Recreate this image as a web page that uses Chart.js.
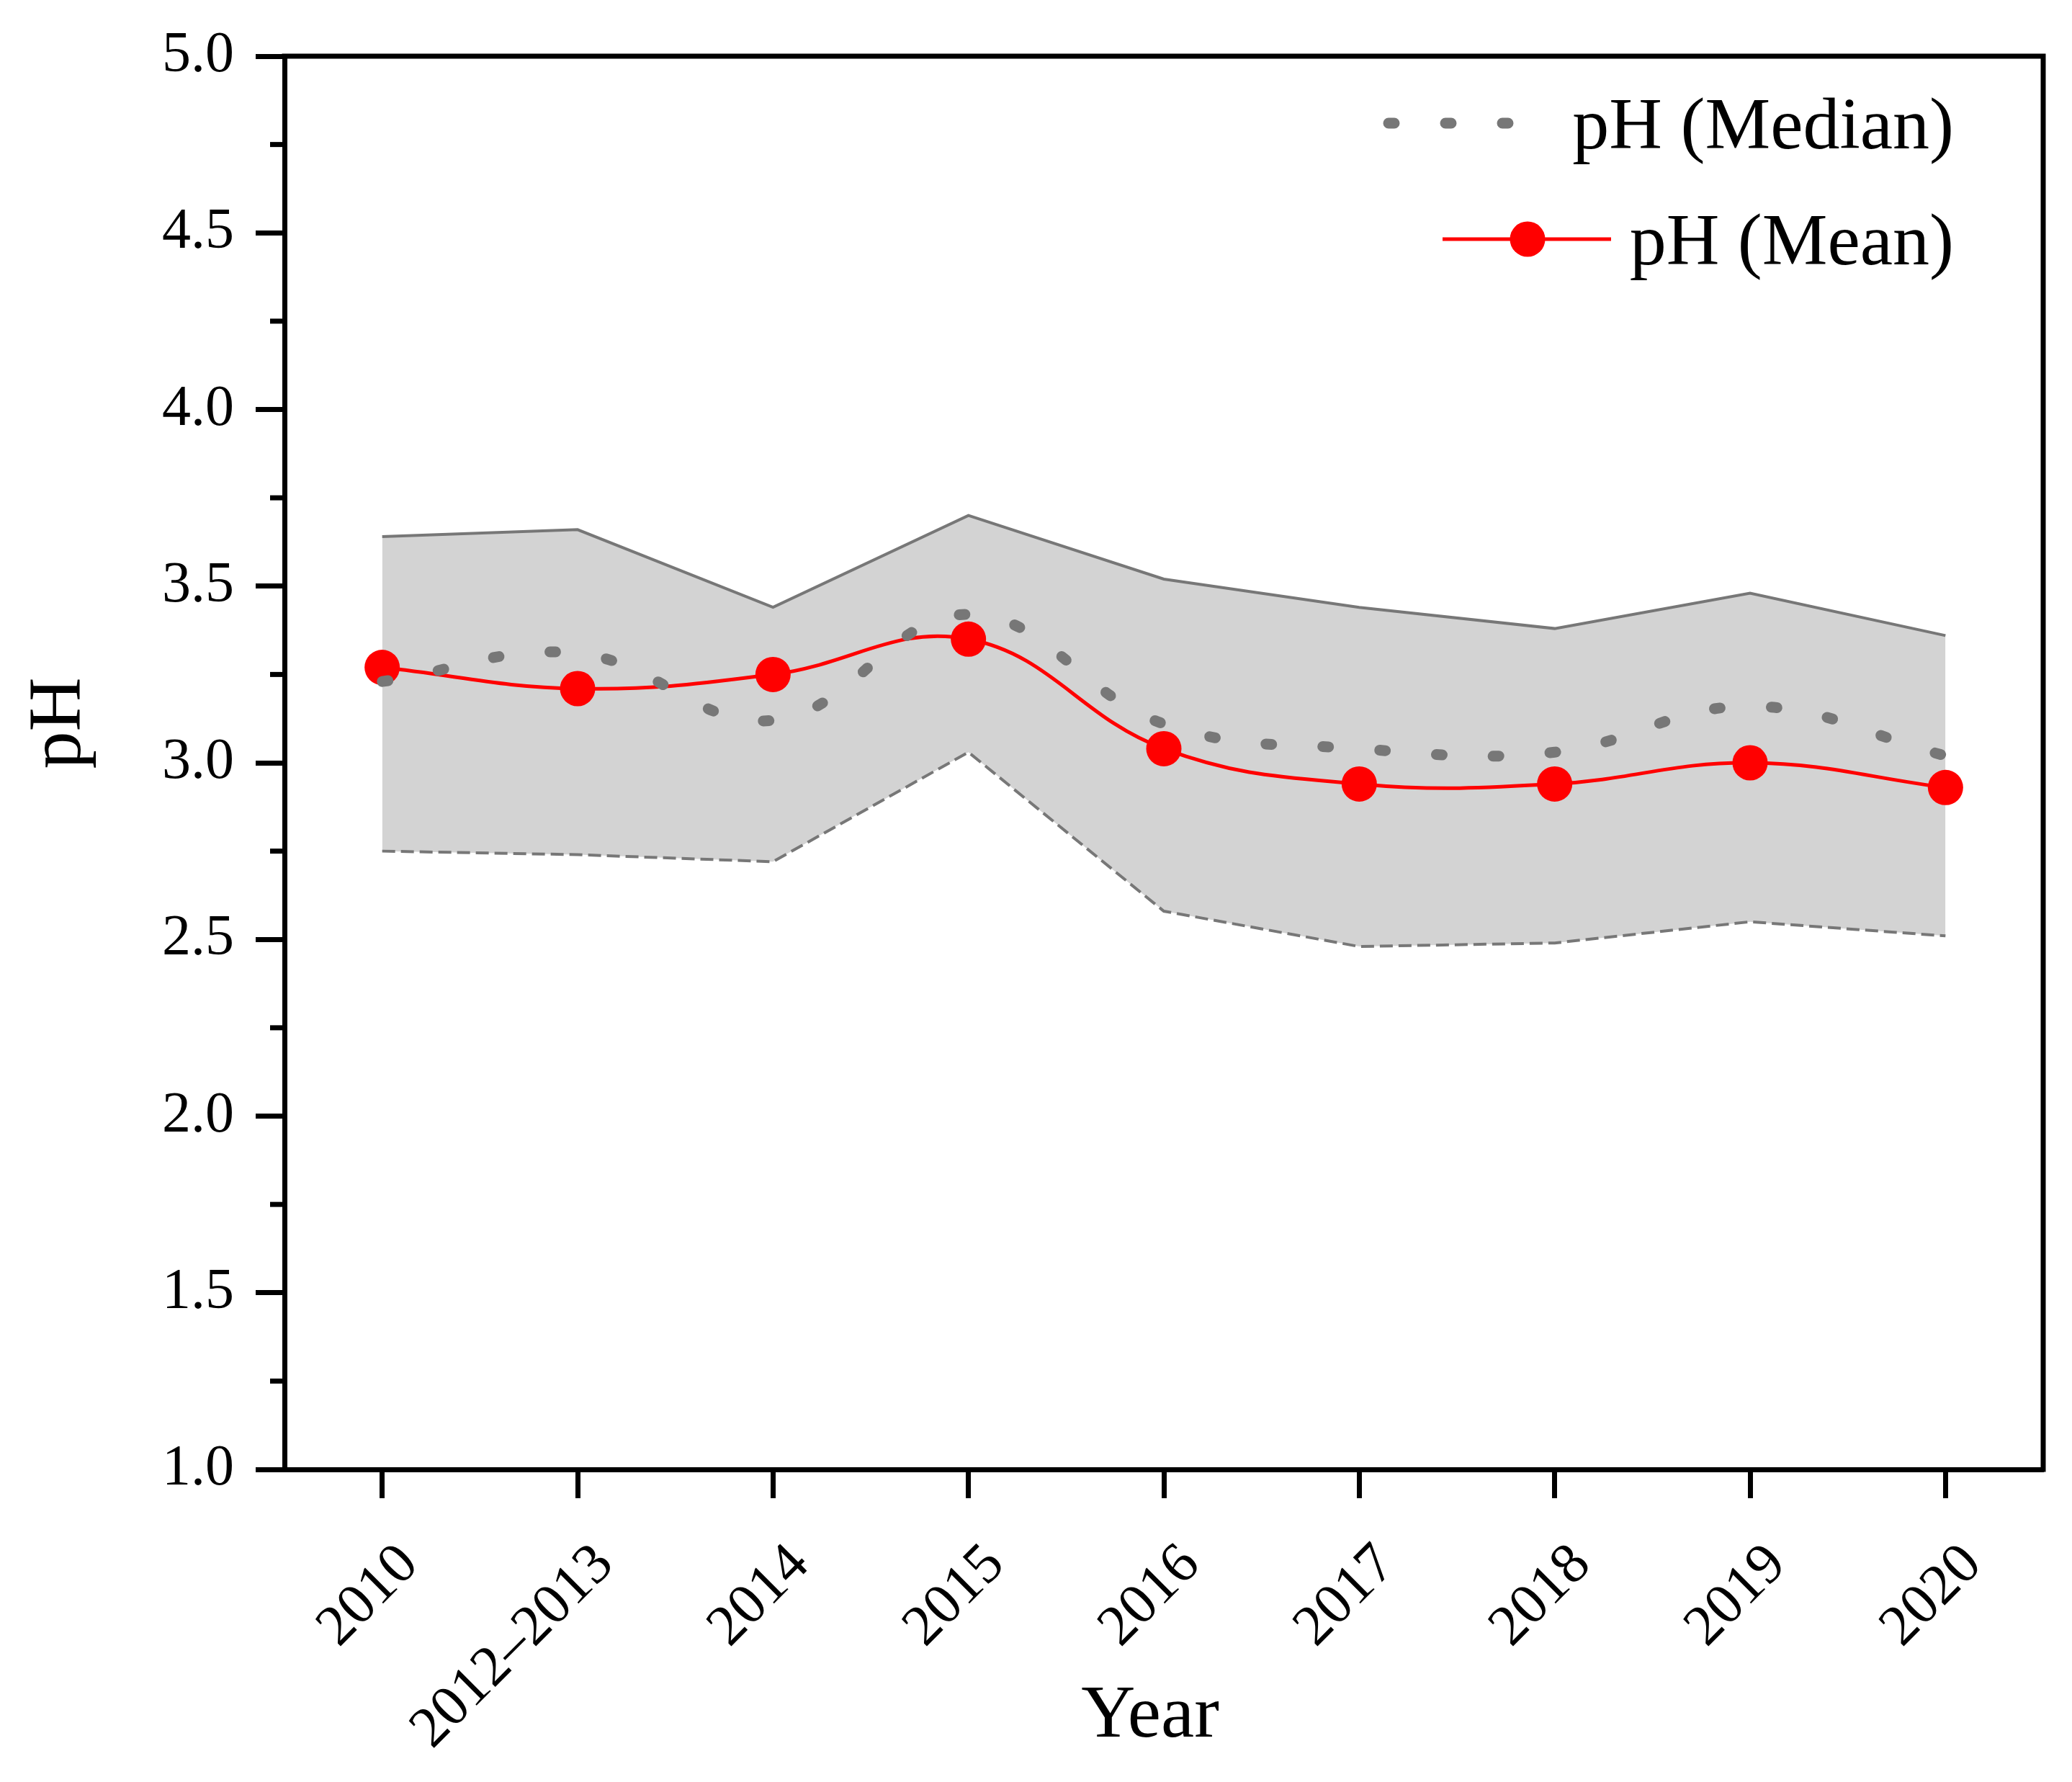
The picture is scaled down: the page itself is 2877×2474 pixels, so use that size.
<!DOCTYPE html>
<html>
<head>
<meta charset="utf-8">
<script src="https://cdn.jsdelivr.net/npm/chart.js@4.4.0/dist/chart.umd.min.js"></script>
<style>
  html, body { margin: 0; padding: 0; background: #fff; }
  #wrap { width: 2877px; height: 2474px; }
</style>
</head>
<body>
<div id="wrap"><canvas id="phChart" width="2877" height="2474"></canvas></div>
<script>
// Data
const years = ["2010", "2012\u20132013", "2014", "2015", "2016", "2017", "2018", "2019", "2020"];
const phMean = [3.27, 3.21, 3.25, 3.35, 3.04, 2.94, 2.94, 3.00, 2.93];
const phMedian = [3.23, 3.31, 3.12, 3.42, 3.11, 3.04, 3.03, 3.16, 3.02];
const phUpper = [3.64, 3.66, 3.44, 3.70, 3.52, 3.44, 3.38, 3.48, 3.36];
const phLower = [2.75, 2.74, 2.72, 3.03, 2.58, 2.48, 2.49, 2.55, 2.51];

const serif = "'Liberation Serif', 'Times New Roman', serif";

// Top/right frame, minor y ticks, axis titles and legend
const extrasPlugin = {
  id: "extras",
  afterDraw(chart) {
    const ctx = chart.ctx;
    const a = chart.chartArea;
    const y = chart.scales.y;
    ctx.save();

    ctx.strokeStyle = "#000";
    ctx.lineWidth = 7;
    ctx.lineCap = "butt";
    ctx.beginPath();
    ctx.moveTo(a.left - 3.5, a.top);
    ctx.lineTo(a.right, a.top);
    ctx.lineTo(a.right, a.bottom + 3.5);
    ctx.stroke();

    // minor ticks between labelled ones
    for (let v = y.min + 0.25; v < y.max; v += 0.5) {
      const py = y.getPixelForValue(v);
      ctx.beginPath();
      ctx.moveTo(a.left - 20, py);
      ctx.lineTo(a.left, py);
      ctx.stroke();
    }

    // axis titles
    ctx.fillStyle = "#000";
    ctx.font = "104px " + serif;
    ctx.textAlign = "center";
    ctx.textBaseline = "alphabetic";
    ctx.fillText("Year", 1597, 2411);
    ctx.translate(111, 1004);
    ctx.rotate(-Math.PI / 2);
    ctx.fillText("pH", 0, 0);
    ctx.setTransform(1, 0, 0, 1, 0, 0);

    // legend
    ctx.strokeStyle = "#777777";
    ctx.lineWidth = 15;
    ctx.lineCap = "round";
    ctx.setLineDash([8, 71]);
    ctx.beginPath();
    ctx.moveTo(a.right - 909, a.top + 93);
    ctx.lineTo(a.right - 739, a.top + 93);
    ctx.stroke();
    ctx.setLineDash([]);

    ctx.strokeStyle = "#ff0000";
    ctx.lineWidth = 5;
    ctx.lineCap = "butt";
    ctx.beginPath();
    ctx.moveTo(a.right - 834, a.top + 254);
    ctx.lineTo(a.right - 600, a.top + 254);
    ctx.stroke();
    ctx.fillStyle = "#ff0000";
    ctx.beginPath();
    ctx.arc(a.right - 716, a.top + 254, 24.5, 0, Math.PI * 2);
    ctx.fill();

    ctx.fillStyle = "#000";
    ctx.font = "102px " + serif;
    ctx.textAlign = "right";
    ctx.textBaseline = "alphabetic";
    ctx.fillText("pH (Median)", a.right - 124, a.top + 128);
    ctx.fillText("pH (Mean)", a.right - 124, a.top + 289);

    ctx.restore();
  }
};

new Chart(document.getElementById("phChart").getContext("2d"), {
  type: "line",
  data: {
    labels: years,
    datasets: [
      {
        label: "pH (Median)",
        data: phMedian,
        borderColor: "#777777",
        borderWidth: 15,
        borderDash: [8, 71],
        borderCapStyle: "round",
        tension: 0.4,
        pointRadius: 0,
        fill: false
      },
      {
        label: "pH (Mean)",
        data: phMean,
        borderColor: "#ff0000",
        borderWidth: 5,
        tension: 0.4,
        pointRadius: 24.5,
        pointBackgroundColor: "#ff0000",
        pointBorderWidth: 0,
        fill: false
      },
      {
        label: "Upper",
        data: phUpper,
        borderColor: "#777777",
        borderWidth: 4,
        tension: 0,
        pointRadius: 0,
        backgroundColor: "#d3d3d3",
        fill: "+1"
      },
      {
        label: "Lower",
        data: phLower,
        borderColor: "#777777",
        borderWidth: 4,
        borderDash: [18, 8],
        tension: 0,
        pointRadius: 0,
        fill: false
      }
    ]
  },
  options: {
    responsive: false,
    animation: false,
    devicePixelRatio: 1,
    layout: {
      autoPadding: false,
      padding: { left: 0, top: 71, right: 40, bottom: 0 }
    },
    plugins: {
      legend: { display: false },
      tooltip: { enabled: false },
      filler: { drawTime: "beforeDatasetsDraw" }
    },
    scales: {
      x: {
        offset: true,
        grid: {
          display: true,
          drawOnChartArea: false,
          drawTicks: true,
          tickLength: 40,
          tickWidth: 7,
          tickColor: "#000",
          offset: false
        },
        border: { display: true, color: "#000", width: 7 },
        ticks: {
          color: "#000",
          font: { family: serif, size: 80 },
          minRotation: 45,
          maxRotation: 45,
          autoSkip: false,
          labelOffset: 38,
          padding: 46
        },
        afterFit(scale) { scale.height = 434; }
      },
      y: {
        min: 1,
        max: 5,
        grid: {
          display: true,
          drawOnChartArea: false,
          drawTicks: true,
          tickLength: 40,
          tickWidth: 7,
          tickColor: "#000"
        },
        border: { display: true, color: "#000", width: 7 },
        ticks: {
          stepSize: 0.5,
          color: "#000",
          font: { family: serif, size: 80 },
          padding: 30,
          callback: v => v.toFixed(1)
        },
        afterFit(scale) { scale.width = 395; }
      }
    }
  },
  plugins: [extrasPlugin]
});
</script>
</body>
</html>
